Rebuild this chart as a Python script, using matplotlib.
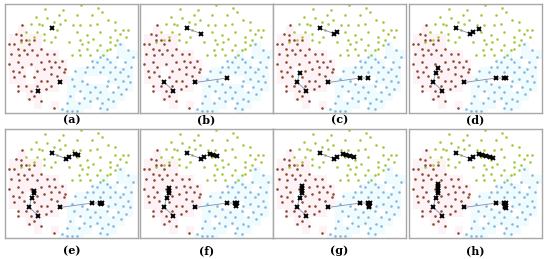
import matplotlib
matplotlib.use("Agg")
import matplotlib.pyplot as plt
import numpy as np

# point cloud (same in all panels), image-like units, y grows downward
green_x = [133, 187, 241, 293, 105, 140, 175, 195, 230, 275, 305, 90, 115, 125, 160, 180, 218, 240,
           270, 290, 325, 345, 75, 110, 130, 170, 230, 260, 300, 345, 370, 385, 100, 130, 165, 240,
           280, 330, 360, 380, 245, 265, 300, 330, 350, 235, 260, 290, 320, 345, 215, 240, 270, 310, 330,
           60, 85, 150, 205]
green_y = [28, 30, 15, 25, 50, 55, 45, 60, 45, 45, 35, 70, 70, 75, 65, 70, 75, 73,
           75, 70, 60, 65, 95, 95, 100, 90, 95, 105, 95, 90, 90, 88, 110, 120, 110, 120,
           115, 110, 100, 110, 130, 125, 135, 125, 120, 150, 145, 150, 150, 135, 165, 165, 165, 165, 145,
           125, 120, 125, 125]

red_x = [65, 45, 60, 75, 25, 40, 60, 85, 100, 50, 70, 95, 120, 30, 55, 80, 110, 140, 160, 25, 50, 65,
         90, 120, 145, 165, 185, 35, 55, 110, 130, 150, 175, 195, 40, 70, 100, 120, 150, 170, 190, 50,
         75, 110, 140, 150, 175, 50, 90, 135, 100, 85, 120, 160]
red_y = [75, 100, 105, 120, 130, 130, 120, 130, 120, 145, 150, 150, 145, 160, 165, 160, 165, 160, 160,
         190, 185, 200, 190, 185, 180, 185, 180, 210, 215, 210, 205, 200, 200, 205, 230, 225, 230, 240,
         220, 225, 215, 255, 255, 255, 240, 255, 245, 270, 270, 265, 285, 295, 300, 322]

cyan_x = [360, 385, 400, 300, 320, 350, 275, 290, 330, 375, 260, 280, 310, 345, 370, 395, 225, 255, 300,
          330, 360, 385, 215, 245, 325, 345, 370, 390, 220, 260, 285, 320, 355, 380, 240, 270, 300, 340,
          365, 210, 250, 290, 325, 200, 235, 270, 305, 340, 185, 200, 215, 230, 300, 320]
cyan_y = [130, 150, 170, 170, 175, 170, 180, 185, 185, 185, 200, 200, 200, 200, 205, 200, 210, 215, 215,
          215, 215, 225, 235, 240, 240, 235, 240, 245, 255, 250, 260, 255, 260, 265, 270, 275, 275, 275,
          280, 285, 290, 290, 295, 305, 305, 300, 305, 300, 325, 330, 330, 330, 320, 325]

# centroid trajectories (8 iterations)
path_green_x = [153, 197, 205, 224, 234, 246, 258, 268]
path_green_y = [84, 100, 94, 86, 88, 92, 95, 97]
path_red_x = [113, 85, 93, 100, 100, 100, 100, 100]
path_red_y = [270, 244, 216, 203, 195, 187, 180, 174]
path_cyan_x = [180, 277, 300, 305, 303, 302, 304, 305]
path_cyan_y = [245, 232, 232, 232, 236, 240, 243, 246]

labels = ["(a)", "(b)", "(c)", "(d)", "(e)", "(f)", "(g)", "(h)"]

W, H = 550, 259
fig = plt.figure(figsize=(W / 100, H / 100), dpi=100)

col_left = [5, 140, 273, 409]
row_top = [4, 129]
pw, ph = 133, 109
label_y = [120, 251]

# faint coarse cells around red / cyan points
cell = 25
nx, ny = int(np.ceil(415 / cell)), int(np.ceil(340 / cell))
grid = np.zeros((ny, nx))
for x, y in zip(red_x, red_y):
    grid[int(y // cell), int(x // cell)] = 1
for x, y in zip(cyan_x, cyan_y):
    grid[int(y // cell), int(x // cell)] = 2
rgba = np.ones((ny, nx, 4))
rgba[..., 3] = 0
rgba[grid == 1] = [0.995, 0.955, 0.965, 1]
rgba[grid == 2] = [0.94, 0.985, 0.995, 1]

for i in range(8):
    r, c = divmod(i, 4)
    l = col_left[c] / W
    b = (H - row_top[r] - ph) / H
    ax = fig.add_axes([l, b, pw / W, ph / H])
    ax.imshow(rgba, extent=[0, nx * cell, ny * cell, 0], interpolation="nearest", zorder=0)
    ax.scatter(green_x, green_y, s=3.5, color="#a3c83a", lw=0, zorder=2)
    ax.scatter(red_x, red_y, s=3.5, color="#8e4a33", lw=0, zorder=2)
    ax.scatter(cyan_x, cyan_y, s=3.5, color="#86b6e0", lw=0, zorder=2)
    k = i + 1
    for px, py in [(path_green_x, path_green_y), (path_red_x, path_red_y), (path_cyan_x, path_cyan_y)]:
        ax.plot(px[:k], py[:k], color="#7f8fb0", lw=0.6, zorder=3)
        ax.plot(px[:k], py[:k], ls="none", marker="x", ms=3.2, mew=1.4, color="black", zorder=4)
    ax.set_xlim(12, 415)
    ax.set_ylim(336, 12)
    ax.set_aspect("auto")
    ax.set_xticks([])
    ax.set_yticks([])
    for s in ax.spines.values():
        s.set_color("#a8a8a8")
        s.set_linewidth(1.0)
    fig.text((col_left[c] + pw / 2) / W, 1 - label_y[r] / H, labels[i], ha="center", va="center",
             fontsize=8, fontweight="bold", family="DejaVu Serif")

fig.savefig("out.png", dpi=100)
